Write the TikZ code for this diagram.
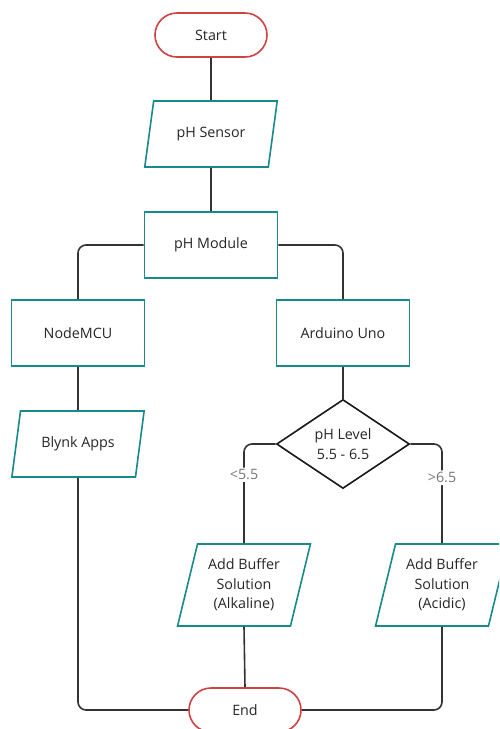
\documentclass[tikz,border=0pt]{standalone}
\usepackage{fontspec}
\setmainfont{Open Sans}
\usetikzlibrary{shapes.geometric}

\definecolor{flowteal}{RGB}{24,138,138}
\definecolor{flowred}{RGB}{206,66,66}
\definecolor{flowline}{RGB}{51,51,51}
\definecolor{flowlabel}{RGB}{120,120,120}

\begin{document}
\begin{tikzpicture}
[
	x=1pt,y=-1pt,
	every node/.style={font=\fontsize{14.3}{19.5}\selectfont,text=black!85},
	termbox/.style={draw=flowred,line width=1.6pt,fill=white,rounded corners=22pt,minimum width=112pt,minimum height=44pt},
	procbox/.style={draw=flowteal,line width=1.6pt,fill=white,minimum width=133pt,minimum height=66pt},
	iobox/.style={trapezium,trapezium left angle=74,trapezium right angle=106,trapezium stretches=true,draw=flowteal,line width=1.6pt,fill=white,minimum width=133pt,minimum height=66pt,align=center},
	decbox/.style={diamond,draw=black!90,line width=1.6pt,fill=white,minimum width=133pt,minimum height=89pt,inner sep=0pt,aspect=1.5,align=center},
	link/.style={draw=flowline,line width=1.6pt,rounded corners=8pt},
	cond/.style={fill=white,text=flowlabel,inner sep=2pt}
]

	% page
	\useasboundingbox (0,0) rectangle (499,729);
	\clip (0,0) rectangle (499,729);

	% main column
	\node[termbox] at (211,35) (start) {Start};
	\node[iobox] at (211,134) (sensor) {pH Sensor};
	\node[procbox] at (211,245) (module) {pH Module};

	% left branch
	\node[procbox] at (78,333) (nodemcu) {NodeMCU};
	\node[iobox] at (78,444) (blynk) {Blynk Apps};

	% right branch
	\node[procbox] at (343,333) (arduino) {Arduino Uno};
	\node[decbox] at (343,444) (level) {pH Level\\5.5 - 6.5};
	\node[iobox,minimum height=82pt] at (244,585) (alkaline) {Add Buffer\\Solution\\(Alkaline)};
	\node[iobox,minimum height=82pt] at (442,585) (acidic) {Add Buffer\\Solution\\(Acidic)};

	\node[termbox] at (245,710) (end) {End};

	% connectors
	\draw[link] (start) -- (sensor);
	\draw[link] (sensor) -- (module);
	\draw[link] (module.west) -| (nodemcu.north);
	\draw[link] (module.east) -| (arduino.north);
	\draw[link] (nodemcu) -- (blynk);
	\draw[link] (arduino) -- (level);
	\draw[link] (level.west) -| (alkaline.north) node[cond,pos=0.655] {<5.5};
	\draw[link] (level.east) -| (acidic.north) node[cond,pos=0.67] {>6.5};
	\draw[link] (blynk.south) |- (end.west);
	\draw[link] (alkaline.south) -- (end.north);
	\draw[link] (acidic.south) |- (end.east);

\end{tikzpicture}
\end{document}
